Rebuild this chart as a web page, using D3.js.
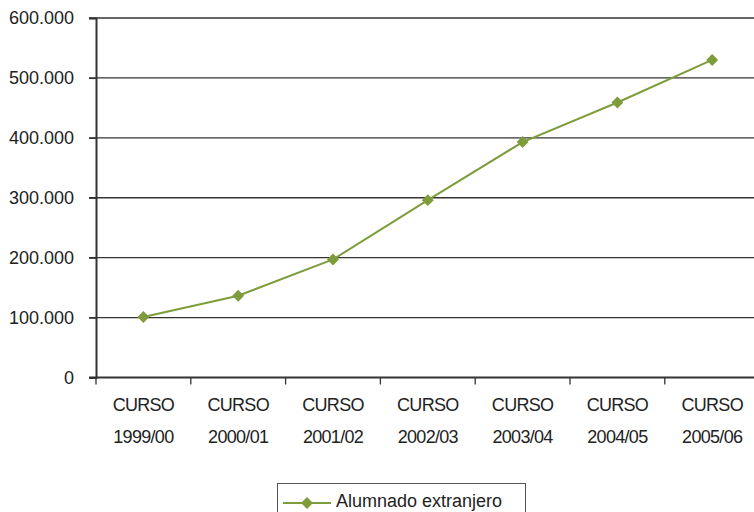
<!DOCTYPE html>
<meta charset="utf-8">
<script src="https://d3js.org/d3.v7.min.js"></script>
<style>
  body { margin: 0; background: #fff; }
  text { font-family: "Liberation Sans", Arial, sans-serif; fill: #222; }
</style>
<div id="chart"></div>
<script>
    // datos
    const cursos = ["1999/00", "2000/01", "2001/02", "2002/03", "2003/04", "2004/05", "2005/06"];
    const alumnado = [101000, 136500, 197000, 296000, 393000, 459000, 530000];
    const yTicks = [0, 100000, 200000, 300000, 400000, 500000, 600000];
    const serie = "Alumnado extranjero";

    const width = 754, height = 512;
    const margin = {top: 18, left: 96, bottom: 135};
    const verde = "#7e9c3c";

    const svg = d3.select("#chart")
      .append("svg")
        .attr("width", width)
        .attr("height", height);

    const x = d3.scaleBand()
        .domain(cursos)
        .range([margin.left, margin.left + 7 * 94.8]);

    const y = d3.scaleLinear()
        .domain([0, 600000])
        .range([height - margin.bottom + 0.5, margin.top]);

    const fmt = d => d === 0 ? "0" : d3.format(",")(d).replace(/,/g, ".");

    // líneas de división
    svg.append("g")
      .selectAll("line")
      .data(yTicks.filter(d => d > 0))
      .join("line")
        .attr("x1", margin.left - 7)
        .attr("x2", width)
        .attr("y1", d => y(d))
        .attr("y2", d => y(d))
        .attr("stroke", "#333")
        .attr("stroke-width", 1.3);

    // eje Y
    const yAxis = svg.append("g")
        .attr("transform", `translate(${margin.left},0)`)
        .call(d3.axisLeft(y).tickValues(yTicks).tickFormat(fmt).tickSize(7).tickPadding(15));
    yAxis.select(".domain").attr("stroke", "#333").attr("stroke-width", 2);
    yAxis.selectAll(".tick line").attr("stroke", "#333").attr("stroke-width", 1.3);
    yAxis.selectAll("text").attr("font-size", 18).attr("fill", "#222")
        .attr("font-family", "Liberation Sans, Arial, sans-serif");

    // eje X
    const x0 = y(0);
    const xAxis = svg.append("g")
        .attr("transform", `translate(0,${x0})`);
    xAxis.append("line")
        .attr("x1", margin.left - 7).attr("x2", width)
        .attr("stroke", "#333").attr("stroke-width", 2);
    xAxis.selectAll(".tk")
      .data(cursos)
      .join("line")
        .attr("class", "tk")
        .attr("x1", d => x(d)).attr("x2", d => x(d))
        .attr("y1", 0).attr("y2", 7)
        .attr("stroke", "#333").attr("stroke-width", 1.3);
    const lab = xAxis.selectAll(".lab")
      .data(cursos)
      .join("text")
        .attr("class", "lab")
        .attr("text-anchor", "middle")
        .attr("font-size", 18)
        .attr("letter-spacing", -0.7)
        .attr("x", d => x(d) + x.bandwidth() / 2);
    lab.append("tspan").attr("x", d => x(d) + x.bandwidth() / 2).attr("y", 33).text("CURSO");
    lab.append("tspan").attr("x", d => x(d) + x.bandwidth() / 2).attr("y", 65).text(d => d);

    // serie
    const puntos = cursos.map((c, i) => [c, alumnado[i]]);
    svg.append("path")
        .datum(puntos)
        .attr("fill", "none")
        .attr("stroke", verde)
        .attr("stroke-width", 2)
        .attr("d", d3.line()
            .x(d => x(d[0]) + x.bandwidth() / 2)
            .y(d => y(d[1])));

    const diamante = d3.symbol().type(d3.symbolDiamond2).size(90);
    svg.append("g")
      .selectAll("path")
      .data(puntos)
      .join("path")
        .attr("d", diamante)
        .attr("fill", verde)
        .attr("transform", d => `translate(${x(d[0]) + x.bandwidth() / 2},${y(d[1])})`);

    // leyenda
    const leg = svg.append("g");
    leg.append("rect")
        .attr("x", 277.5).attr("y", 483.5)
        .attr("width", 248).attr("height", 40)
        .attr("fill", "#fff").attr("stroke", "#555").attr("stroke-width", 1);
    leg.append("line")
        .attr("x1", 283).attr("x2", 331).attr("y1", 503).attr("y2", 503)
        .attr("stroke", verde).attr("stroke-width", 2);
    leg.append("path")
        .attr("d", diamante)
        .attr("fill", verde)
        .attr("transform", "translate(307,503)");
    leg.append("text")
        .attr("x", 336).attr("y", 507)
        .attr("font-size", 18)
        .text(serie);
</script>
